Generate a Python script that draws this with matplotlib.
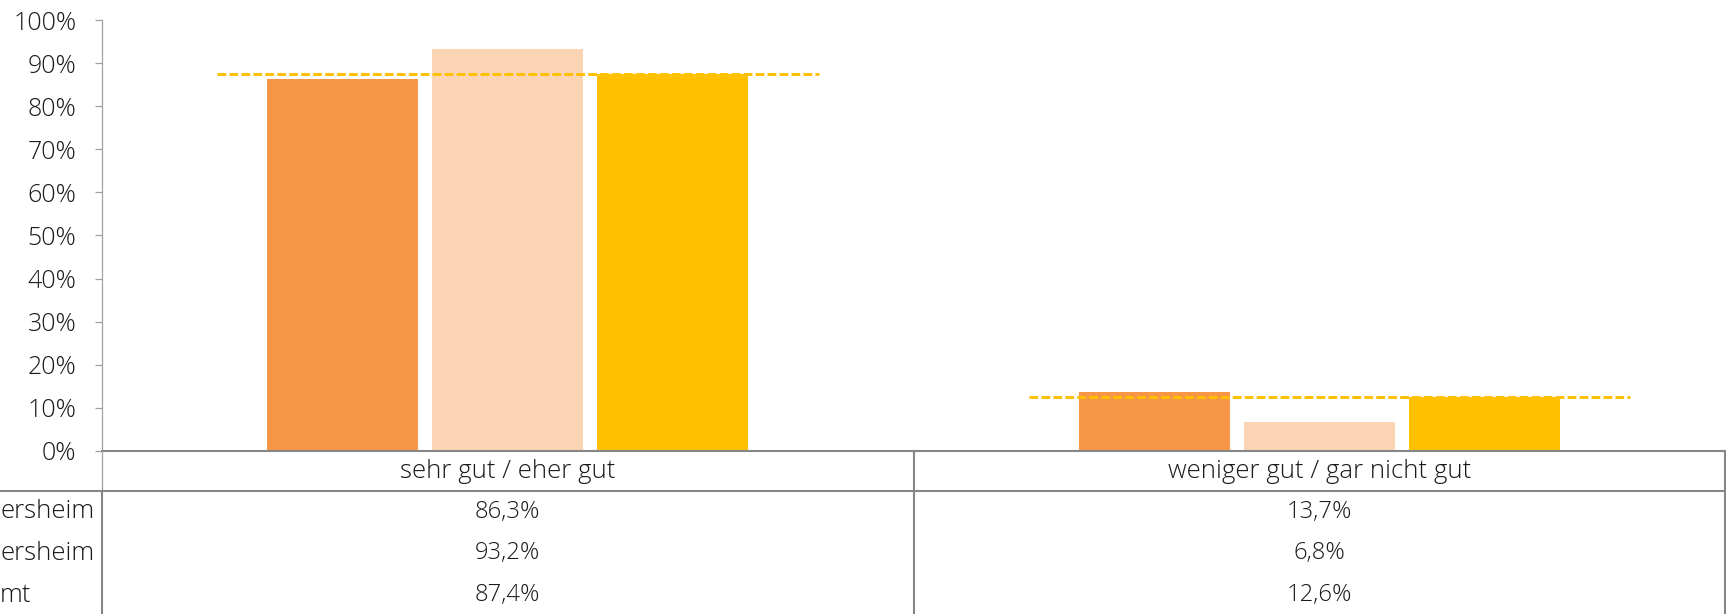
import numpy as np
import matplotlib.pyplot as plt
from matplotlib.lines import Line2D
from matplotlib import transforms

plt.rcParams['font.family'] = ['Open Sans', 'DejaVu Sans']

# data
categories = ["sehr gut / eher gut", "weniger gut / gar nicht gut"]
row_labels = ["ersheim", "ersheim", "mt"]   # left part of the labels is cut off in the original
series_1 = [86.3, 13.7]
series_2 = [93.2, 6.8]
gesamt = [87.4, 12.6]
values = [series_1, series_2, gesamt]
colors = ['#F79646', '#FBD4B4', '#FFC000']
y_ticks = [0, 10, 20, 30, 40, 50, 60, 70, 80, 90, 100]

W, H = 1726, 614


def fx(x):
    return x / W


def fy(y):
    return 1 - y / H


fig = plt.figure(figsize=(W / 100, H / 100), dpi=100)
ax = fig.add_axes([fx(102), fy(451), fx(1725) - fx(102), fy(20) - fy(451)])

x = np.arange(len(categories))
bar_w = 0.186
step = 0.2035
for i, (vals, c) in enumerate(zip(values, colors)):
    ax.bar(x + (i - 1) * step, vals, width=bar_w, color=c, zorder=2)

# dashed reference line for "Gesamt"
for xi, g in zip(x, gesamt):
    ax.plot([xi - 0.358, xi + 0.383], [g, g], color='#FFC000', lw=2.1,
            dashes=(3, 1.1), zorder=3)

ax.set_xlim(-0.5, 1.5)
ax.set_ylim(0, 100)
ax.set_yticks(y_ticks)
ax.set_yticklabels([f"{t}%" for t in y_ticks], fontsize=18, fontweight='light', color='#1a1a1a')
ax.set_xticks([])
ax.tick_params(axis='y', length=5, width=0.9, color='#A0A0A0', pad=13.5)
for s in ['top', 'right', 'bottom']:
    ax.spines[s].set_visible(False)
ax.spines['left'].set_color('#A0A0A0')
ax.spines['left'].set_linewidth(0.9)

# table below the chart
tc = '#868686'
lw = 1.5
fig.add_artist(Line2D([fx(102), fx(1725)], [fy(451), fy(451)], color=tc, lw=lw))
fig.add_artist(Line2D([fx(0), fx(1725)], [fy(491), fy(491)], color=tc, lw=lw))
fig.add_artist(Line2D([fx(102), fx(102)], [fy(451), fy(491)], color='#A0A0A0', lw=0.9))
fig.add_artist(Line2D([fx(102), fx(102)], [fy(491), fy(614)], color=tc, lw=lw))
fig.add_artist(Line2D([fx(913.5), fx(913.5)], [fy(451), fy(614)], color=tc, lw=lw))
fig.add_artist(Line2D([fx(1724.5), fx(1724.5)], [fy(451), fy(614)], color=tc, lw=lw))

trans = transforms.blended_transform_factory(ax.transData, fig.transFigure)
for xi, cat in zip(x, categories):
    fig.text(xi, fy(471), cat, transform=trans, ha='center', va='center',
             fontsize=18.5, fontweight='light', color='#1a1a1a')

row_y = [512, 553.5, 595]
for ry, lab, vals in zip(row_y, row_labels, values):
    fig.text(fx(0), fy(ry), lab, ha='left', va='center', fontsize=18.5,
             fontweight='light', color='#1a1a1a')
    for xi, v in zip(x, vals):
        fig.text(xi, fy(ry), f"{v:.1f}%".replace('.', ','), transform=trans,
                 ha='center', va='center', fontsize=17.2, fontweight='light', color='#1a1a1a')

fig.savefig('out.png', dpi=100)
